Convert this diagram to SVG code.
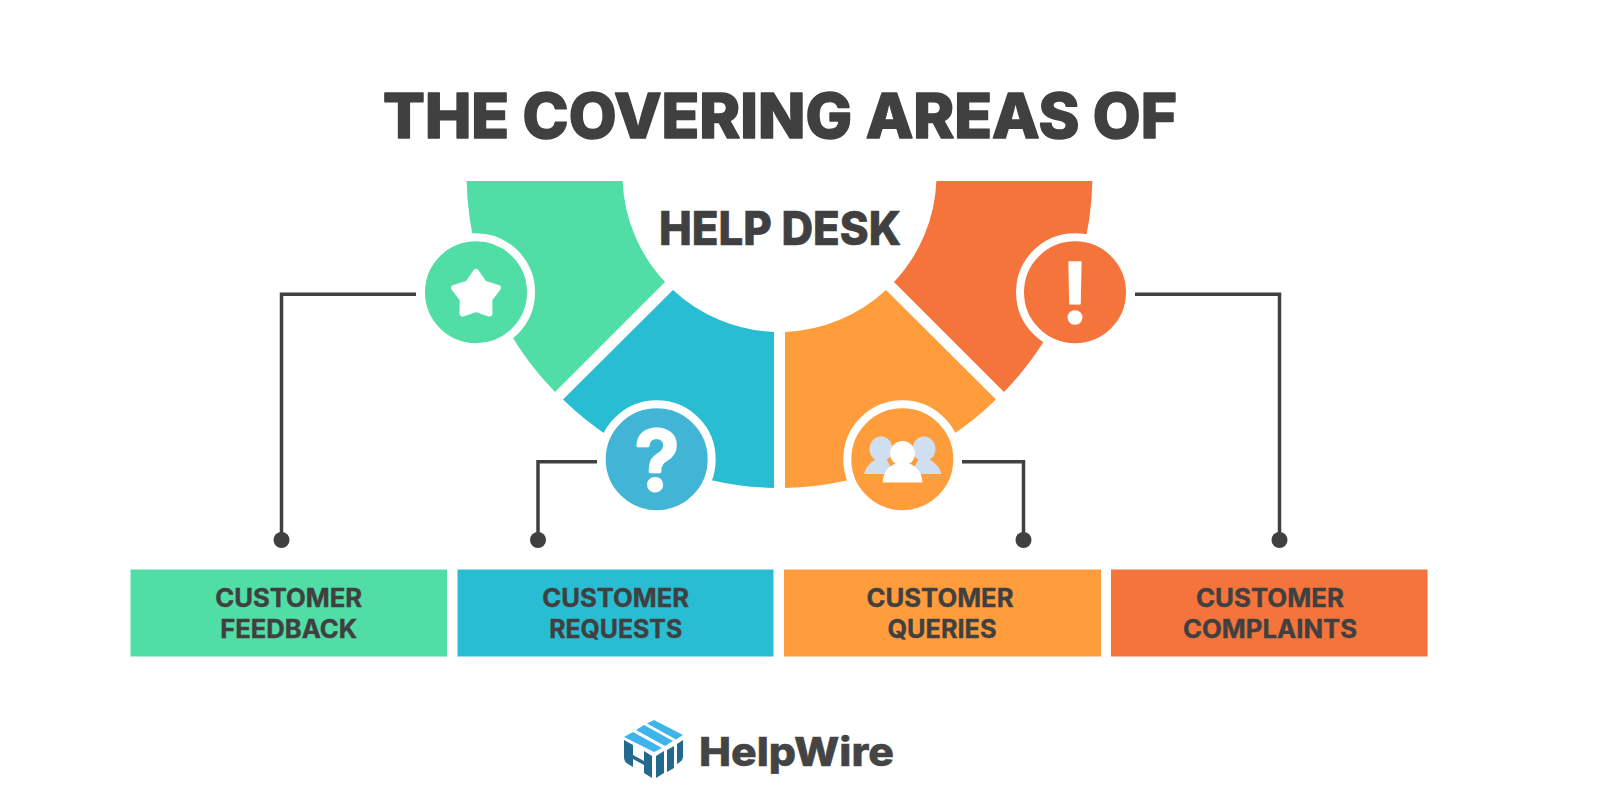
<svg xmlns="http://www.w3.org/2000/svg" width="1600" height="800" viewBox="0 0 1600 800">
<style>
.t{font-family:"Inter","Open Sans","Liberation Sans",sans-serif;font-weight:800;fill:#404040;text-anchor:middle;stroke:#404040;stroke-linejoin:round}
.lb{font-size:25px;font-weight:700;stroke-width:.4}
.ring{stroke:#fff;stroke-width:8}
.wire{fill:none;stroke:#404040;stroke-width:3.5}
.dot{fill:#404040}
.green{fill:#50DDA6}.blue{fill:#29BDD3}.orange{fill:#FF9D3C}.red{fill:#F4743C}
.sky{fill:#42B5D6}
.pale{fill:#CFDFF0}
.w{fill:#fff}
.lg{fill:#3DB5EA}.ld{fill:#236A8E}
</style>
<rect width="1600" height="800" fill="#fff"/>
<text id="title" class="t" x="780" y="137.500" font-size="62" font-weight="900" stroke-width="1.600" textLength="794" lengthAdjust="spacingAndGlyphs">THE COVERING AREAS OF</text>
<g id="segment-feedback"><path class="green" d="M466.6 181H622.6A157 157 0 0 0 665 282L555 392A313 313 0 0 1 466.6 181Z"/></g>
<g id="segment-requests"><path class="blue" d="M673 290A157 157 0 0 0 774 332V488A313 313 0 0 1 563 399.5Z"/></g>
<g id="segment-queries"><path class="orange" d="M886 290A157 157 0 0 1 785 332V488A313 313 0 0 0 996 399.5Z"/></g>
<g id="segment-complaints"><path class="red" d="M1092.4 181H936.4A157 157 0 0 1 894 282L1004 392A313 313 0 0 0 1092.4 181Z"/></g>
<text id="center-title" class="t" x="780" y="245" font-size="47" stroke-width=".7" textLength="242" lengthAdjust="spacingAndGlyphs">HELP DESK</text>
<g id="connectors">
<path class="wire" d="M416 294.300H281.500V540"/><circle class="dot" cx="281.500" cy="540" r="8"/>
<path class="wire" d="M597 461.700H538V540"/><circle class="dot" cx="538" cy="540" r="8"/>
<path class="wire" d="M962 461.700H1023.500V540"/><circle class="dot" cx="1023.500" cy="540" r="8"/>
<path class="wire" d="M1135 294.300H1279.500V540"/><circle class="dot" cx="1279.500" cy="540" r="8"/>
</g>
<g id="icon-feedback">
<circle class="green ring" cx="476" cy="292.300" r="55"/>
<polygon class="w" stroke="#fff" stroke-width="6" stroke-linejoin="round" points="476,272 484.200,283.700 497.900,287.900 489.300,299.300 489.500,313.600 476,309 462.500,313.600 462.700,299.300 454.100,287.900 467.800,283.700"/>
</g>
<g id="icon-requests">
<circle class="sky ring" cx="656.700" cy="459.300" r="55"/>
<text x="657" y="490" font-family="Inter,sans-serif" font-weight="600" font-size="82" text-anchor="middle" fill="#fff" stroke="#fff" stroke-width="3" stroke-linejoin="round">?</text>
</g>
<g id="icon-queries">
<circle class="orange ring" cx="902.300" cy="459.300" r="55"/>
<ellipse class="pale" cx="881" cy="449" rx="11.500" ry="12.500"/>
<ellipse class="pale" cx="924" cy="449" rx="11.500" ry="12.500"/>
<path class="pale" d="M864 474C866 466 872 461 878 458H886L894 474Z"/>
<path class="pale" d="M941.500 474C939.500 466 933 461 927 458H919L911 474Z"/>
<circle class="w" cx="902.500" cy="453.500" r="12.500"/>
<path class="w" d="M882.700 482.500C882.700 472 889 466 896 463.500H909C916 466 922.300 472 922.300 482.500Z"/>
</g>
<g id="icon-complaints">
<circle class="red ring" cx="1075" cy="292.300" r="55"/>
<text x="1075" y="323" font-family="Inter,sans-serif" font-weight="600" font-size="84" text-anchor="middle" fill="#fff" stroke="#fff" stroke-width="1.500" stroke-linejoin="round">!</text>
</g>
<g id="box-feedback"><rect class="green" x="130.500" y="569.500" width="316.500" height="87"/>
<text class="t lb" x="288.700" y="607" textLength="147" lengthAdjust="spacingAndGlyphs">CUSTOMER</text><text class="t lb" x="288.700" y="638" textLength="137" lengthAdjust="spacingAndGlyphs">FEEDBACK</text></g>
<g id="box-requests"><rect class="blue" x="457.500" y="569.500" width="316" height="87"/>
<text class="t lb" x="615.700" y="607" textLength="147" lengthAdjust="spacingAndGlyphs">CUSTOMER</text><text class="t lb" x="615.700" y="638" textLength="133" lengthAdjust="spacingAndGlyphs">REQUESTS</text></g>
<g id="box-queries"><rect class="orange" x="784" y="569.500" width="317" height="87"/>
<text class="t lb" x="940" y="607" textLength="147" lengthAdjust="spacingAndGlyphs">CUSTOMER</text><text class="t lb" x="942" y="638" textLength="109" lengthAdjust="spacingAndGlyphs">QUERIES</text></g>
<g id="box-complaints"><rect class="red" x="1111" y="569.500" width="316.500" height="87"/>
<text class="t lb" x="1270" y="607" textLength="148" lengthAdjust="spacingAndGlyphs">CUSTOMER</text><text class="t lb" x="1270" y="638" textLength="174" lengthAdjust="spacingAndGlyphs">COMPLAINTS</text></g>
<g id="logo">
<polygon class="lg" points="624,737 633,732 662,748 654,752"/>
<polygon class="lg" points="636,730 644,725 673,741 665,746"/>
<polygon class="lg" points="647,723.500 654,720 683,735 676,739.500"/>
<path class="ld" d="M624 740L633 745V755L644 761V751L652 756V778L644 773V765L633 759V767L628 764Q624 762 624 757Z"/>
<path class="ld" d="M656 756L664 751V773L656 778Z"/>
<path class="ld" d="M667 750L674 746V768L667 772Z"/>
<path class="ld" d="M677 744L683 740V757Q683 760 680 762L677 764Z"/>
<text x="699" y="766" font-family="Inter,sans-serif" font-weight="800" font-size="40" fill="#444" stroke="#444" stroke-width=".5" textLength="195" lengthAdjust="spacingAndGlyphs">HelpWire</text>
</g>
</svg>
